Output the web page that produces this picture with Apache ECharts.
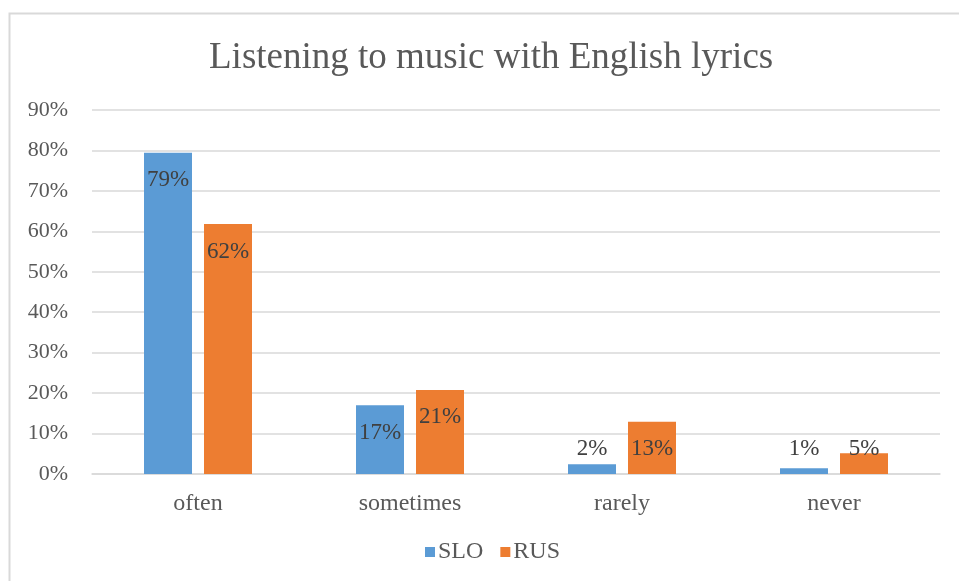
<!DOCTYPE html>
<html>
<head>
<meta charset="utf-8">
<script src="https://cdn.jsdelivr.net/npm/echarts@6/dist/echarts.min.js"></script>
<style>
  html, body { margin: 0; padding: 0; background: #fff; }
  #chart { width: 959px; height: 581px; }
</style>
</head>
<body>
<div id="chart"></div>
<script>
const categories = ['often', 'sometimes', 'rarely', 'never']
const sloValues = [79.4, 17, 2.4, 1.4]
const rusValues = [61.8, 20.8, 12.9, 5.1]
const yTicks = [0, 10, 20, 30, 40, 50, 60, 70, 80, 90]

const font = '"Liberation Serif", "Times New Roman", serif'

// small bars get their label pushed up from the axis, like Excel's inside-end
const makeData = values => values.map(v => ({
    value: v,
    label: v < 13 ? { position: 'insideBottom', distance: 14 } : { position: 'insideTop', distance: 16 }
}))

const chart = echarts.init(document.getElementById('chart'))
chart.setOption({
    animation: false,
    title: {
        text: 'Listening to music with English lyrics',
        left: 204,
        top: 35,
        textStyle: { fontFamily: font, fontSize: 37, fontWeight: 'normal', color: '#595959' }
    },
    legend: {
        data: ['SLO', 'RUS'],
        bottom: 12,
        left: 420,
        itemWidth: 10,
        itemHeight: 10,
        itemGap: 17,
        icon: 'rect',
        textStyle: { fontFamily: font, fontSize: 24, color: '#595959', padding: [0, 0, 0, -2] }
    },
    grid: { left: 92, right: 19, top: 110, bottom: 107 },
    xAxis: {
        type: 'category',
        data: categories,
        axisLine: { lineStyle: { color: '#d9d9d9', width: 1.5 } },
        axisTick: { show: false },
        axisLabel: { fontFamily: font, fontSize: 24, color: '#595959', margin: 18 }
    },
    yAxis: {
        type: 'value',
        min: yTicks[0],
        max: yTicks[yTicks.length - 1],
        interval: 10,
        axisLine: { show: false },
        axisTick: { show: false },
        splitLine: { lineStyle: { color: '#d9d9d9', width: 1.5 } },
        axisLabel: { fontFamily: font, fontSize: 22, color: '#595959', margin: 24, formatter: v => v + '%' }
    },
    series: [
        {
            name: 'SLO',
            type: 'bar',
            barWidth: 48,
            barGap: '25%',
            itemStyle: { color: '#5b9bd5' },
            label: {
                show: true,
                fontFamily: font,
                fontSize: 23,
                color: '#404040',
                formatter: p => Math.round(p.value) + '%'
            },
            data: makeData(sloValues)
        },
        {
            name: 'RUS',
            type: 'bar',
            barWidth: 48,
            itemStyle: { color: '#ed7d31' },
            label: {
                show: true,
                fontFamily: font,
                fontSize: 23,
                color: '#404040',
                formatter: p => Math.round(p.value) + '%'
            },
            data: makeData(rusValues)
        }
    ],
    graphic: [{
        type: 'rect',
        shape: { x: 9.5, y: 13.5, width: 1000, height: 1000 },
        style: { fill: 'none', stroke: '#d9d9d9', lineWidth: 2 },
        silent: true
    }]
})
</script>
</body>
</html>
